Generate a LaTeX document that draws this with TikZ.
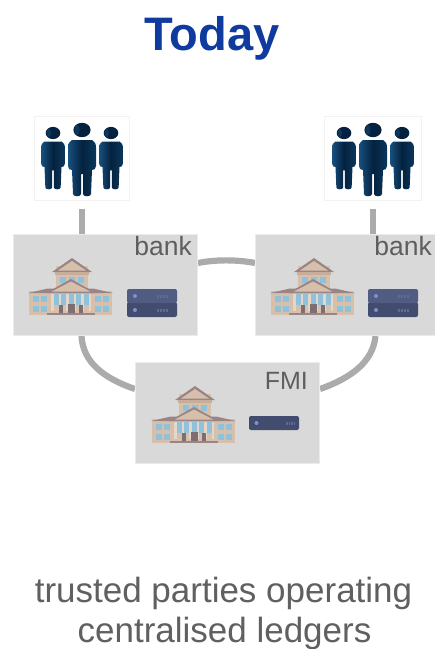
\documentclass[tikz,border=0pt]{standalone}
\usepackage{fontspec}
\usetikzlibrary{backgrounds}
\setmainfont{Liberation Sans}
\definecolor{boxgray}{HTML}{D9D9D9}
\definecolor{boxedge}{HTML}{EBEBEB}
\definecolor{linkgray}{HTML}{ABABAB}
\definecolor{titleblue}{HTML}{0F3A9E}
\definecolor{labelgray}{HTML}{5E5E5E}
\definecolor{textgray}{HTML}{606060}
\definecolor{wall}{HTML}{D6C0AC}
\definecolor{wallb}{HTML}{C8AE9A}
\definecolor{roofc}{HTML}{9A8584}
\definecolor{winc}{HTML}{8FC1DB}
\definecolor{doorc}{HTML}{7E6E72}
\definecolor{srvtop}{HTML}{505C82}
\definecolor{srvbot}{HTML}{414C6E}
\definecolor{srvdot}{HTML}{7F8FD0}
\definecolor{navyA}{HTML}{04223F}
\definecolor{navyB}{HTML}{17507E}
\definecolor{navyC}{HTML}{0B375C}
\tikzset{
  x=1pt,y=-1pt,
  orgbox/.style={draw=boxedge,line width=1pt,fill=boxgray,inner sep=0pt,anchor=north west},
  peoplebox/.style={draw=black!5,line width=.6pt,fill=white,inner sep=0pt,anchor=north west},
  link/.style={draw=linkgray,line width=6.2pt},
  boxlabel/.style={text=labelgray,font=\fontsize{25}{25}\selectfont,inner sep=0pt,anchor=base east},
  banklabel/.style={boxlabel,font=\fontsize{26.5}{26}\selectfont},
  pics/building/.style={code={
    % upper block
    \fill[wall] (28,8) rectangle (60,30);
    \fill[roofc] (24,14) -- (44,0) -- (64,14) -- cycle;
    \fill[wall] (30,12.5) -- (44,3) -- (58,12.5) -- cycle;
    \fill[wallb] (27,14) rectangle (61,16.5);
    \foreach \wx in {32,41,50} \fill[winc] (\wx,18.5) rectangle ++(5.5,6.5);
    % wings
    \fill[wall] (1,33) rectangle (84,56.5);
    \fill[roofc] (0,35) -- (20,30.5) -- (65,30.5) -- (85,35) -- cycle;
    \foreach \wx in {5,13,67,75} {
      \fill[winc] (\wx,38) rectangle ++(5.5,6);
      \fill[winc] (\wx,47.5) rectangle ++(5.5,6);
    }
    % portico
    \fill[roofc] (18,35) -- (43,21) -- (68,35) -- cycle;
    \fill[wall] (24,33.5) -- (43,23.5) -- (62,33.5) -- cycle;
    \fill[winc] (23,36) rectangle (63,47);
    \foreach \wx in {23,30.5,38,45.5,53,60.5} \fill[wall!65!white] (\wx,36) rectangle ++(2.8,17);
    \fill[doorc] (39.5,46) rectangle (46.5,55.5);
    \fill[doorc] (31,47) rectangle (35,55.5);
    \fill[doorc] (51,47) rectangle (55,55.5);
    \fill[roofc] (19,54.5) rectangle (67,57);
  }},
  pics/serverone/.style={code={
    \fill[srvbot] (0,0) [rounded corners=2pt] rectangle (50,14);
    \fill[srvdot] (7.5,7) circle (2);
    \foreach \sx in {37,39.5,42,44.5} \fill[srvdot!45!srvbot] (\sx,5.5) rectangle ++(1.6,3);
  }},
  pics/servertwo/.style={code={
    \fill[srvbot] (0,13) [rounded corners=2pt] rectangle (50,28);
    \fill[srvtop] (0,0) [rounded corners=2pt] rectangle (50,14);
    \fill[srvdot] (8,7) circle (2);
    \fill[srvdot] (8,21) circle (2);
    \foreach \sx in {30,33,36,39} {
      \fill[srvdot!45!srvbot] (\sx,5.5) rectangle ++(2,3);
      \fill[srvdot!45!srvbot] (\sx,19.5) rectangle ++(2,3);
    }
  }},
  pics/person/.style={code={
    \fill[navyA] (0,0) ellipse (8.6 and 7.2);
    \fill[navyC] (-5,0) ellipse (2.6 and 5);
    \shade[left color=navyB,right color=navyC,middle color=navyA]
       (-10,10) .. controls (-13,11) and (-14,14) .. (-14,18)
       -- (-14,36) .. controls (-14,39) and (-12,40) .. (-10,40)
       -- (-9,64) .. controls (-9,67) and (-1,67) .. (-1,64) -- (-1,44) -- (1,44) -- (1,64)
       .. controls (1,67) and (9,67) .. (9,64)
       -- (10,40) .. controls (12,40) and (14,39) .. (14,36) -- (14,18)
       .. controls (14,14) and (13,11) .. (10,10) -- cycle;
  }},
  pics/crowd/.style={code={
    \pic[scale=.85] at (19,17) {person};
    \pic[scale=.85] at (77,17) {person};
    \pic at (48,14) {person};
  }}
}
\begin{document}
\begin{tikzpicture}
\useasboundingbox (0,0) rectangle (435,649);

% nodes
\node[peoplebox,minimum width=95pt,minimum height=84pt] (pl) at (34,116) {};
\node[peoplebox,minimum width=97pt,minimum height=84pt] (pr) at (324,116) {};
\node[orgbox,minimum width=184pt,minimum height=101pt] (bl) at (13,234) {};
\node[orgbox,minimum width=180pt,minimum height=101pt] (br) at (255,234) {};
\node[orgbox,minimum width=184pt,minimum height=101pt] (fm) at (135,362) {};

\coordinate (plb) at ([yshift=-8pt]pl.south);
\coordinate (prb) at ([yshift=-8pt]pr.south);

% connectors, behind the boxes
\begin{scope}[on background layer]
\fill[white] (0,0) rectangle (435,649);
\draw[link] (plb) -- (plb |- bl.north);
\draw[link] (prb) -- (prb |- br.north);
\draw[link] (bl.east |- 0,263) .. controls (215,259.5) and (237,259.5) .. (br.west |- 0,263);
\draw[link] ([xshift=-24pt]bl.south) .. controls (83,362) and (103,378) .. (fm.west |- 0,389);
\draw[link] ([xshift=30pt]br.south) .. controls (373,362) and (351,378) .. (fm.east |- 0,389);
\end{scope}

% people
\pic at (34,116) {crowd};
\pic at (325,116) {crowd};

% buildings and servers
\pic at (28,258) {building};
\pic at (270,258) {building};
\pic at (151,386) {building};
\pic at (127,289) {servertwo};
\pic at (368,289) {servertwo};
\pic at (249,416) {serverone};

% labels
\node[banklabel] (lbl) at (192,255) {bank};
\node[banklabel] (lbr) at (432,255) {bank};
\node[boxlabel] (lfm) at (308,389) {FMI};

\node[text=titleblue,font=\fontsize{47}{47}\bfseries\selectfont,inner sep=0pt,anchor=base] (title) at (212,50) {Today};
\node[text=textgray,font=\fontsize{35}{40}\selectfont,inner sep=0pt,anchor=base] (cap1) at (223.5,602) {trusted parties operating};
\node[text=textgray,font=\fontsize{35}{40}\selectfont,inner sep=0pt,anchor=base] (cap2) at (224.5,642) {centralised ledgers};
\end{tikzpicture}
\end{document}
